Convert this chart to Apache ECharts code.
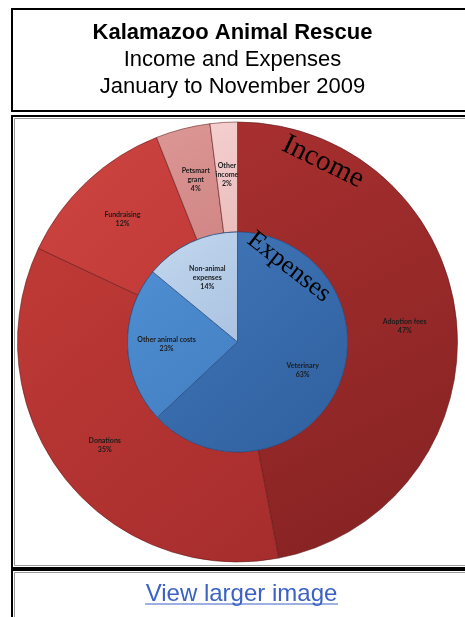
<!DOCTYPE html>
<html><head><meta charset="utf-8">
<script src="https://cdn.jsdelivr.net/npm/echarts@6/dist/echarts.min.js"></script>
<style>html,body{margin:0;padding:0;background:#fff}#c{width:465px;height:617px}</style>
</head><body><div id="c"></div>
<script>
const titleLines = ['Kalamazoo Animal Rescue', 'Income and Expenses', 'January to November 2009'];
const linkText = 'View larger image';
const incomeCategories = ['Adoption fees', 'Donations', 'Fundraising', 'Petsmart\ngrant', 'Other\nincome'];
const incomeValues = [47, 35, 12, 4, 2];
const expenseCategories = ['Veterinary', 'Other animal costs', 'Non-animal\nexpenses'];
const expenseValues = [63, 23, 14];
const ringTitles = ['Income', 'Expenses'];

const incomeColors = [['#a82f2f', '#842222'], ['#bf3a36', '#a62d2d'], ['#cd4541', '#c13a37'], ['#dc9795', '#d08684'], ['#f3cfce', '#ebbebd']];
const expenseColors = [['#4177b9', '#2f5f9e'], ['#4f8ed2', '#427ec2'], ['#c3d7ee', '#aac3e2']];

function grad(c) {
  return {type: 'linear', x: 0, y: 0, x2: 1, y2: 1, colorStops: [{offset: 0, color: c[0]}, {offset: 1, color: c[1]}]};
}

const chart = echarts.init(document.getElementById('c'), null, {renderer: 'canvas'});
const C = [237.5, 342];
const labelStyle = {
  show: true, position: 'inside', formatter: '{b}\n{c}%',
  fontFamily: 'Lato', fontWeight: 'bold', fontSize: 7, lineHeight: 9, color: '#1c1c1c'
};
const D = Math.PI / 180;
chart.setOption({
  animation: false,
  graphic: [
    {type: 'rect', shape: {x: 12, y: 9, width: 470, height: 102}, style: {fill: 'none', stroke: '#000', lineWidth: 2}},
    {type: 'rect', shape: {x: 12, y: 116, width: 470, height: 452}, style: {fill: 'none', stroke: '#000', lineWidth: 2}},
    {type: 'rect', shape: {x: 14.5, y: 118.5, width: 470, height: 447}, style: {fill: 'none', stroke: '#999', lineWidth: 1}},
    {type: 'rect', shape: {x: 12, y: 570, width: 470, height: 80}, style: {fill: 'none', stroke: '#000', lineWidth: 2}},
    {type: 'rect', shape: {x: 14.5, y: 572.5, width: 470, height: 80}, style: {fill: 'none', stroke: '#999', lineWidth: 1}},
    {type: 'text', style: {text: titleLines[0], x: 232.5, y: 33, textAlign: 'center', textVerticalAlign: 'middle', fontFamily: 'Liberation Sans', fontWeight: 'bold', fontSize: 22, fill: '#000'}},
    {type: 'text', style: {text: titleLines[1], x: 232.5, y: 60, textAlign: 'center', textVerticalAlign: 'middle', fontFamily: 'Liberation Sans', fontSize: 22, fill: '#000'}},
    {type: 'text', style: {text: titleLines[2], x: 232.5, y: 87, textAlign: 'center', textVerticalAlign: 'middle', fontFamily: 'Liberation Sans', fontSize: 22, fill: '#000'}},
    {type: 'text', style: {text: linkText, x: 241.5, y: 594, textAlign: 'center', textVerticalAlign: 'middle', fontFamily: 'Liberation Sans', fontSize: 24, fill: '#3b62c4'}},
    {type: 'line', shape: {x1: 145, y1: 604, x2: 338, y2: 604}, style: {stroke: '#3b62c4', lineWidth: 1.2}},
    {type: 'text', z: 100, x: 323, y: 162, rotation: -26 * D, style: {text: ringTitles[0], x: 0, y: 0, textAlign: 'center', textVerticalAlign: 'middle', fontFamily: 'Liberation Serif', fontSize: 29, fill: '#000'}},
    {type: 'text', z: 100, x: 289, y: 267, rotation: -38 * D, style: {text: ringTitles[1], x: 0, y: 0, textAlign: 'center', textVerticalAlign: 'middle', fontFamily: 'Liberation Serif', fontSize: 26, fill: '#000'}}
  ],
  series: [
    {
      type: 'pie', center: C, radius: [110, 220], startAngle: 90, clockwise: true,
      silent: true, emphasis: {disabled: true}, labelLine: {show: false},
      itemStyle: {borderColor: 'rgba(90,20,20,0.55)', borderWidth: 1},
      label: labelStyle,
      data: incomeCategories.map((n, i) => ({name: n, value: incomeValues[i], itemStyle: {color: grad(incomeColors[i])}}))
    },
    {
      type: 'pie', center: C, radius: [0, 110], startAngle: 90, clockwise: true,
      silent: true, emphasis: {disabled: true}, labelLine: {show: false},
      itemStyle: {borderColor: '#2b4f86', borderWidth: 0.8},
      label: {show: false},
      data: expenseCategories.map((n, i) => ({name: n, value: expenseValues[i], itemStyle: {color: grad(expenseColors[i])}}))
    },
    {
      type: 'pie', center: C, radius: [26, 110], startAngle: 90, clockwise: true,
      silent: true, emphasis: {disabled: true}, labelLine: {show: false},
      itemStyle: {color: 'rgba(0,0,0,0)', borderWidth: 0},
      label: labelStyle,
      data: expenseCategories.map((n, i) => ({name: n, value: expenseValues[i]}))
    }
  ]
});
</script></body></html>
